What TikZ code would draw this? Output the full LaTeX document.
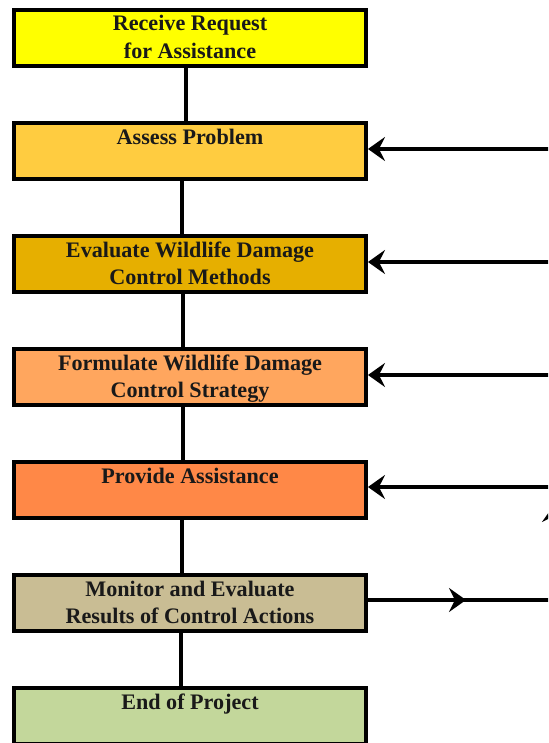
\documentclass[tikz,border=0pt]{standalone}
\usepackage{fontspec}
\setmainfont{Liberation Serif}
\usetikzlibrary{arrows.meta}

\definecolor{receivecol}{HTML}{FFFF00}
\definecolor{assesscol}{HTML}{FFCC40}
\definecolor{evalcol}{HTML}{E6AF00}
\definecolor{formcol}{HTML}{FFA65E}
\definecolor{providecol}{HTML}{FF8847}
\definecolor{monitorcol}{HTML}{C9BD94}
\definecolor{endcol}{HTML}{C3D79B}

\newcommand{\stagetext}[1]{\vbox to 1.12cm{\hsize=6.9cm\centering\noindent\rule{0pt}{0.42cm}#1\par\vfil}}

\tikzset{
	stagebox/.style={draw=black, line width=0.08cm, minimum width=7.04cm, minimum height=1.12cm,
		inner sep=0pt, text=black!90, font=\fontsize{12.6}{15.4}\selectfont\bfseries},
	flow/.style={line width=0.08cm, draw=black},
	flowtip/.style={-{Stealth[length=0.34cm,width=0.48cm,inset=0.12cm]}}
}

\begin{document}
\begin{tikzpicture}[x=0.02cm, y=-0.02cm]
			%%%%% START %%%%%
			\useasboundingbox (0,0) rectangle (548,743);
			\clip (0,0) rectangle (548,743);
			
			\node[stagebox, fill=receivecol] (receive) at (190,38) {\stagetext{Receive Request\\for Assistance}};
			\node[stagebox, fill=assesscol] (assess) at (190,151) {\stagetext{Assess Problem}};
			\node[stagebox, fill=evalcol] (evaluate) at (190,264) {\stagetext{Evaluate Wildlife Damage\\Control Methods}};
			\node[stagebox, fill=formcol] (formulate) at (190,377) {\stagetext{Formulate Wildlife Damage\\Control Strategy}};
			\node[stagebox, fill=providecol] (provide) at (190,490) {\stagetext{Provide Assistance}};
			\node[stagebox, fill=monitorcol] (monitor) at (190,603) {\stagetext{Monitor and Evaluate\\Results of Control Actions}};
			\node[stagebox, fill=endcol] (finish) at (190,716) {\stagetext{End of Project}};
			
			% links between stages
			\draw[flow] ([xshift=-0.08cm]receive.south) -- ([xshift=-0.08cm]assess.north);
			\draw[flow] ([xshift=-0.16cm]assess.south) -- ([xshift=-0.16cm]evaluate.north);
			\draw[flow] ([xshift=-0.14cm]evaluate.south) -- ([xshift=-0.14cm]formulate.north);
			\draw[flow] ([xshift=-0.14cm]formulate.south) -- ([xshift=-0.14cm]provide.north);
			\draw[flow] ([xshift=-0.16cm]provide.south) -- ([xshift=-0.16cm]monitor.north);
			\draw[flow] ([xshift=-0.18cm]monitor.south) -- ([xshift=-0.18cm]finish.north);
			
			% feedback coming in from the right
			\coordinate (assessin) at (560,149);
			\coordinate (evaluatein) at (560,262);
			\coordinate (formulatein) at (560,375);
			\coordinate (providein) at (560,487);
			\draw[flow, flowtip] (assessin) -- (assessin -| assess.east);
			\draw[flow, flowtip] (evaluatein) -- (evaluatein -| evaluate.east);
			\draw[flow, flowtip] (formulatein) -- (formulatein -| formulate.east);
			\draw[flow, flowtip] (providein) -- (providein -| provide.east);
			
			\coordinate (upfoot) at (554,545);
			\coordinate (uptip) at (554,505);
			\draw[flow, flowtip] (upfoot) -- (uptip);
			
			% results going out
			\coordinate (monitorout) at (560,600);
			\coordinate (monitormid) at (466,600);
			\draw[flow] (monitorout -| monitor.east) -- (monitorout);
			\draw[flow, flowtip] (monitorout -| monitor.east) -- (monitormid);
			%%%%% END %%%%%
\end{tikzpicture}
\end{document}
